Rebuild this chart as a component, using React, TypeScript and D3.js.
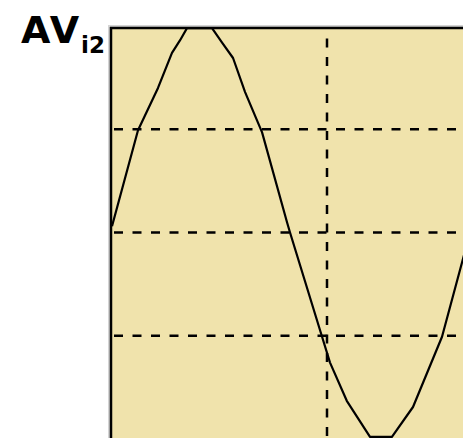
import React from "react";
import * as d3 from "d3";

// Trace samples: time (tenths of the marked interval) and amplitude (grid divisions)
const traceTime = [0, 1.21, 2.14, 2.79, 3.16, 3.49, 4.65, 5.12, 5.63, 6.19, 6.98, 8.14, 8.28, 9.77, 10.14, 10.92, 12.0, 13.02, 14.0, 15.35, 16.37];
const traceValue = [0.06, 0.99, 1.4, 1.74, 1.86, 1.98, 1.98, 1.84, 1.69, 1.36, 0.97, 0.1, 0.0, -1.01, -1.26, -1.63, -1.98, -1.98, -1.69, -1.01, -0.22];

// Dashed graticule positions
const hGrid = [-1, 0, 1];
const vGrid = [10];

const W = 463;
const H = 438;

export default function App() {
  const left = 112;
  const top = 29;
  const right = W + 4;
  const bottom = H + 4;

  const x = d3.scaleLinear().domain([0, 10]).range([left, 327]);
  const y = d3.scaleLinear().domain([-2, 2]).range([439, 26]);

  const pts: [number, number][] = traceTime.map((t, i) => [t, traceValue[i]]);
  const line = d3
    .line<[number, number]>()
    .x((d) => x(d[0]))
    .y((d) => y(d[1]));

  return (
    <svg
      width={W}
      height={H}
      style={{ position: "absolute", left: 0, top: 0, display: "block" }}
    >
      <rect x={0} y={0} width={W} height={H} fill="#ffffff" />
      <defs>
        <clipPath id="plot">
          <rect x={left} y={top} width={right - left} height={bottom - top} />
        </clipPath>
      </defs>
      {/* soft shadow edge around the screen */}
      <rect x={left - 4} y={top - 4} width={right - left + 4} height={bottom - top + 4} fill="#d4d4d4" />
      <rect x={left} y={top} width={right - left} height={bottom - top} fill="#F0E3AC" />
      <g clipPath="url(#plot)">
        {hGrid.map((v) => (
          <line
            key={"h" + v}
            x1={left}
            x2={right}
            y1={y(v)}
            y2={y(v)}
            stroke="#000"
            strokeWidth={2.5}
            strokeDasharray="9,9.5"
            strokeDashoffset={-2}
          />
        ))}
        {vGrid.map((t) => (
          <line
            key={"v" + t}
            x1={x(t)}
            x2={x(t)}
            y1={top}
            y2={bottom}
            stroke="#000"
            strokeWidth={2.5}
            strokeDasharray="9,9.5"
            strokeDashoffset={9}
          />
        ))}
        <path d={line(pts) ?? ""} fill="none" stroke="#000" strokeWidth={2.2} strokeLinejoin="round" />
      </g>
      {/* screen frame */}
      <line x1={left - 1} x2={left - 1} y1={top - 2} y2={bottom} stroke="#000" strokeWidth={2.5} />
      <line x1={left - 2} x2={right} y1={top - 1} y2={top - 1} stroke="#000" strokeWidth={2.5} />
      <text
        x={21}
        y={43}
        fontFamily="DejaVu Sans, sans-serif"
        fontWeight="bold"
        fontSize={38}
        letterSpacing={2}
        fill="#000"
      >
        AV
      </text>
      <text
        x={81}
        y={53}
        fontFamily="DejaVu Sans, sans-serif"
        fontWeight="bold"
        fontSize={23}
        fill="#000"
      >
        i2
      </text>
    </svg>
  );
}
